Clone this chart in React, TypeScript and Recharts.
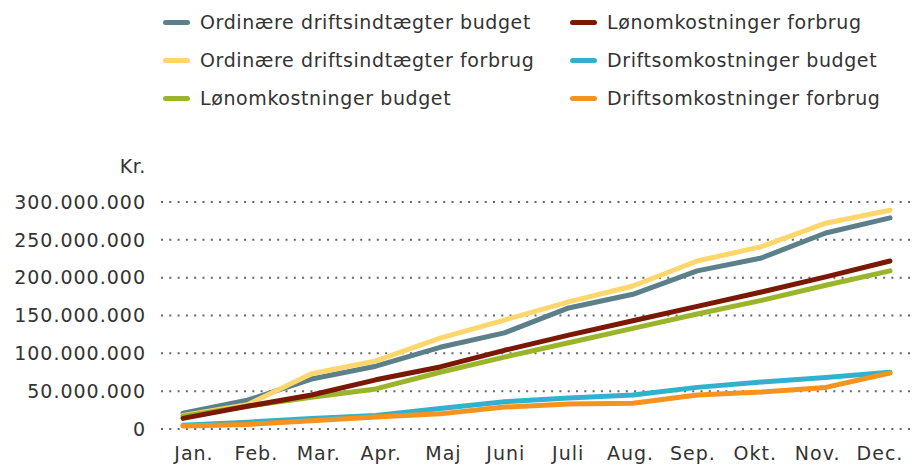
import { CartesianGrid, Line, LineChart, XAxis, YAxis } from "recharts"

const months = ['Jan.', 'Feb.', 'Mar.', 'Apr.', 'Maj', 'Juni', 'Juli', 'Aug.', 'Sep.', 'Okt.', 'Nov.', 'Dec.']

// values in million kr.
const indtaegterBudget = [21, 38, 66, 83, 108, 127, 160, 178, 209, 226, 259, 279]
const indtaegterForbrug = [18, 32, 73, 90, 120, 144, 168, 189, 222, 241, 272, 289]
const loenBudget = [17, 30, 42, 53, 75, 95, 114, 133, 152, 170, 190, 209]
const loenForbrug = [14, 30, 45, 65, 82, 104, 124, 143, 162, 181, 201, 222]
const driftBudget = [5, 9, 14, 18, 27, 36, 41, 45, 55, 62, 68, 75]
const driftForbrug = [4, 6, 11, 16, 20, 29, 33, 34, 45, 49, 55, 74]

const yTicks = [0, 50, 100, 150, 200, 250, 300].map(v => v * 1000000)

const series = [
    { key: 'ib', name: 'Ordinære driftsindtægter budget', color: '#5b808a', values: indtaegterBudget },
    { key: 'if', name: 'Ordinære driftsindtægter forbrug', color: '#fdd66c', values: indtaegterForbrug },
    { key: 'lb', name: 'Lønomkostninger budget', color: '#9bb52b', values: loenBudget },
    { key: 'lf', name: 'Lønomkostninger forbrug', color: '#7b1804', values: loenForbrug },
    { key: 'db', name: 'Driftsomkostninger budget', color: '#30b2cf', values: driftBudget },
    { key: 'df', name: 'Driftsomkostninger forbrug', color: '#f6931f', values: driftForbrug },
]

const data = months.map((m, i) => {
    const row: any = { month: m }
    series.forEach(s => { row[s.key] = s.values[i] * 1000000 })
    return row
})

const FONT = '"DejaVu Sans", sans-serif'
const TEXT = '#333'

const fmt = (v: number) => String(v).replace(/\B(?=(\d{3})+(?!\d))/g, '.')

const MonthTick = ({ x, y, payload, index }: any) => (
    <text x={x + 11 - index * 21 / 11} y={y + 24} dy="0.35em" textAnchor="middle"
        fill={TEXT} fontSize={19} letterSpacing={1} fontFamily={FONT}>
        {payload.value}
    </text>
)

const legendCols = [[0, 1, 2], [3, 4, 5]]

export default function App() {
    return (
        <div style={{ position: 'absolute', left: 0, top: 0, width: 916, height: 465, background: '#fff' }}>
            {legendCols.map((col, ci) => col.map((si, ri) => (
                <div key={series[si].key} style={{
                    position: 'absolute', left: ci === 0 ? 163 : 570, top: 22 + ri * 38 - 12,
                    height: 24, display: 'flex', alignItems: 'center',
                    fontFamily: FONT, fontSize: 19, letterSpacing: 0.6, color: TEXT, whiteSpace: 'nowrap'
                }}>
                    <span style={{ width: 27, height: 5, borderRadius: 3, background: series[si].color, marginRight: 10 }} />
                    {series[si].name}
                </div>
            )))}
            <div style={{
                position: 'absolute', right: 916 - 146, top: 154, fontFamily: FONT,
                fontSize: 19, letterSpacing: 0.6, color: TEXT, lineHeight: '24px'
            }}>Kr.</div>
            <LineChart width={916} height={465} data={data} margin={{ top: 202, right: 4, bottom: 0, left: 0 }}>
                <CartesianGrid vertical={false} stroke="#666" strokeWidth={2} strokeDasharray="2 6.3" />
                <XAxis dataKey="month" axisLine={false} tickLine={false} tickSize={0} tickMargin={0}
                    height={36} padding={{ left: 22, right: 22 }} tick={<MonthTick />} interval={0} />
                <YAxis domain={[0, 300000000]} ticks={yTicks} axisLine={false} tickLine={false}
                    tickSize={0} tickMargin={15} width={161} tickFormatter={fmt}
                    tick={{ fill: TEXT, fontSize: 19, letterSpacing: 1, fontFamily: FONT }} />
                {series.map(s => (
                    <Line key={s.key} type="linear" dataKey={s.key} name={s.name} stroke={s.color}
                        strokeWidth={5} strokeLinecap="round" strokeLinejoin="round" dot={false}
                        isAnimationActive={false} />
                ))}
            </LineChart>
        </div>
    )
}
